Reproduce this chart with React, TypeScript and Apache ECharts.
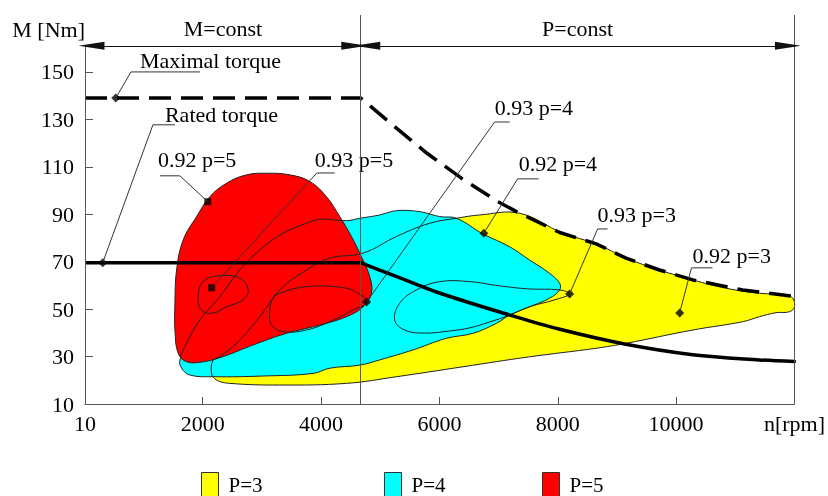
import React, { useEffect, useRef } from "react";
import * as echarts from "echarts";

const FONT = '"Liberation Serif", "Times New Roman", serif';

// Axes
const xMin = 10;
const xMax = 12000;
const yMin = 10;
const yMax = 174;
const headerNm = 161;
const zoneBoundaryRpm = 4670;
const xTickValues = [2000, 4000, 6000, 8000, 10000];
const xLabelValues = [10, 2000, 4000, 6000, 8000, 10000, 12000];
const yTickValues = [10, 30, 50, 70, 90, 110, 130, 150];
const zoneLabels = ["M=const", "P=const"];

// Torque limit curves
const maxTorqueRpm = [10, 4670, 5273, 5790, 6371, 6989, 7356, 8034, 8650, 9153, 9719, 10282, 11126, 12000];
const maxTorqueNm = [139, 139, 126.3, 115.7, 105.2, 95.3, 90.4, 82.3, 77.5, 71.5, 66.5, 62.3, 58.1, 55.3];
const ratedTorqueRpm = [10, 4670, 5000, 5330, 6000, 7190, 8034, 9150, 10280, 11408, 12000];
const ratedTorqueNm = [69.6, 69.6, 66.3, 63.2, 56.8, 47.5, 41.5, 35.2, 30.8, 28.6, 27.9];

// Efficiency regions (outline points [rpm, Nm])
const regionP3: number[][] = [
  [2176, 28.6], [2149, 22.9], [2234, 20.1], [2458, 18.7], [3303, 18.0], [4429, 18.7], [5273, 21.5],
  [6398, 25.7], [7524, 29.9], [8650, 33.5], [9157, 35.6], [10282, 41.2], [11126, 44.7], [11408, 46.8],
  [11690, 48.5], [11915, 48.9], [12000, 51.0], [11970, 54.6], [11859, 56.0], [11408, 56.7], [10846, 58.8],
  [10282, 62.3], [9719, 66.5], [9157, 71.5], [8650, 77.5], [8087, 82.0], [7356, 90.4], [6680, 89.7],
  [6287, 88.3], [5836, 86.2], [5273, 80.6], [4710, 73.6], [4147, 71.5], [3754, 66.5], [3303, 58.1],
  [2965, 46.8], [2572, 35.6], [2290, 30.0],
];
const regionP4: number[][] = [
  [3754, 86.2], [3978, 87.9], [4429, 87.3], [4654, 88.3], [4991, 89.7], [5273, 91.5], [5667, 91.1],
  [6005, 89.0], [6287, 88.3], [6736, 81.7], [7187, 76.3], [7524, 70.7], [7862, 65.1], [8031, 60.9],
  [8031, 58.1], [7862, 54.6], [7524, 51.0], [7187, 47.5], [6962, 44.0], [6567, 39.8], [6118, 37.7],
  [5554, 32.8], [4991, 28.6], [4654, 26.4], [4147, 25.1], [3865, 22.9], [3021, 21.8], [2176, 21.5],
  [1783, 22.2], [1643, 25.1], [1614, 28.6], [1727, 35.6], [1952, 45.4], [2290, 55.3], [2627, 66.5],
  [2965, 75.0], [3358, 82.0],
];
const regionP5: number[][] = [
  [3078, 107.3], [2740, 106.6], [2403, 103.1], [2121, 97.4], [1896, 89.0], [1670, 79.2], [1558, 66.5],
  [1530, 52.5], [1530, 41.2], [1585, 31.4], [1727, 27.8], [2008, 27.8], [2345, 30.0], [2852, 34.9],
  [3416, 39.8], [3978, 43.3], [4429, 46.8], [4710, 51.0], [4851, 56.7], [4822, 63.7], [4682, 72.1],
  [4513, 80.6], [4316, 89.0], [4091, 97.4], [3809, 103.8], [3472, 106.6],
];
// Inner efficiency contours
const contour093p5: number[][] = [
  [1923, 55.3], [2008, 61.6], [2290, 64.1], [2627, 63.0], [2768, 58.1], [2683, 53.9], [2403, 51.0],
  [2176, 48.3], [1980, 49.6],
];
const contour093p4: number[][] = [
  [3303, 56.7], [3754, 59.5], [4429, 58.8], [4710, 55.3], [4767, 52.5], [4541, 49.6], [4147, 44.7],
  [3754, 41.2], [3358, 40.5], [3163, 43.3], [3134, 49.6], [3190, 54.6],
];
const contour093p3: number[][] = [
  [5244, 45.4], [5329, 52.5], [5611, 58.1], [6005, 61.6], [6511, 61.6], [7018, 59.8], [7524, 58.5],
  [8031, 58.1], [8200, 56.4], [7946, 53.9], [7524, 51.0], [7187, 47.5], [6849, 44.6], [6511, 42.1],
  [6174, 40.8], [5751, 39.9], [5413, 41.2],
];

// Annotations
const annotationNames = ["Maximal torque", "Rated torque", "0.92 p=5", "0.93 p=5", "0.93 p=4", "0.92 p=4", "0.93 p=3", "0.92 p=3"];
const annotationSymbols = ["diamond", "diamond", "rect", "rect", "diamond", "diamond", "diamond", "diamond"];
const annotationMarkers = [[530, 139], [310, 69.6], [2085, 95.3], [2150, 59], [4770, 53], [6750, 82], [8200, 56.4], [10060, 48.4]];
const annotationElbows = [[787, 150], [1158, 127.7], [1614, 106.2], [3928, 107.4], [6933, 128.9], [7322, 104.9], [8673, 83.8], [10260, 67.4]];
const annotationStubEnds = [[1952, 150], [1530, 127.7], [1276, 106.2], [4231, 107.4], [7187, 128.9], [7676, 104.9], [8841, 83.8], [10615, 67.4]];
const annotationTextAnchors = [[939, 154.9], [1361, 132.1], [1243, 112.9], [3894, 112.9], [6933, 135.1], [7339, 111.6], [8673, 89.9], [10277, 72.8]];

// Legend
const legendNames = ["P=3", "P=4", "P=5"];
const legendColors = ["#ffff00", "#00ffff", "#ff0000"];
const legendLefts = [201, 384, 542];

const zip = (a: number[], b: number[]) => a.map((v, i) => [v, b[i]]);

export default function App() {
  const ref = useRef<HTMLDivElement>(null);
  useEffect(() => {
    const chart = echarts.init(ref.current as HTMLDivElement, null, { renderer: "svg" });

    const polygon = (name: string | undefined, pts: number[][], fill: string | null, stroke: string | null) => ({
      type: "custom",
      name,
      silent: true,
      data: pts,
      encode: { x: 0, y: 1 },
      itemStyle: { color: fill || "#000", borderColor: "#333", borderWidth: 1 },
      renderItem: (params: any, api: any) => {
        if (params.dataIndex !== 0) return null;
        return {
          type: "polygon",
          shape: { points: pts.map((p) => api.coord(p)), smooth: 0.4 },
          style: { fill: fill || "none", stroke: stroke || "none", lineWidth: 1 },
        };
      },
    });

    const leaderSeries = annotationMarkers.map((m, i) => ({
      type: "line",
      silent: true,
      data: [m, annotationElbows[i], annotationStubEnds[i]],
      symbol: "none",
      lineStyle: { color: "#333", width: 1 },
    }));

    const arrowEnd = (coord: number[]) => ({ coord, symbol: "triangle", symbolSize: [8, 26], symbolOffset: [0, 6.5] });
    const plainEnd = (coord: number[]) => ({ coord, symbol: "none" });
    const labelStyle = { show: true, position: "insideMiddleTop", distance: 6, fontSize: 22, fontFamily: FONT, color: "#000" };
    const headerLine = { color: "#111", width: 1, type: "solid" };

    const rated = zip(ratedTorqueRpm, ratedTorqueNm);

    const option: any = {
      animation: false,
      textStyle: { fontFamily: FONT },
      grid: { left: 85, right: 33, top: 15, bottom: 92, containLabel: false },
      xAxis: {
        type: "value",
        min: xMin,
        max: xMax,
        splitLine: { show: false },
        axisLine: { lineStyle: { color: "#555", width: 1 } },
        axisTick: { inside: true, length: 7, customValues: xTickValues, lineStyle: { color: "#555" } },
        axisLabel: {
          customValues: xLabelValues,
          margin: 8,
          fontSize: 22,
          fontFamily: FONT,
          color: "#000",
          formatter: (v: number) => (v === 12000 ? "n[rpm]" : String(v)),
        },
      },
      yAxis: {
        type: "value",
        min: yMin,
        max: yMax,
        splitLine: { show: false },
        axisLine: { show: false },
        axisTick: { show: true, inside: true, length: 8, customValues: yTickValues, lineStyle: { color: "#555" } },
        axisLabel: { customValues: yTickValues, margin: 11, fontSize: 22, fontFamily: FONT, color: "#000" },
        name: "M [Nm]",
        nameLocation: "end",
        nameGap: -25,
        nameMoveOverlap: false,
        nameTextStyle: { fontSize: 22, fontFamily: FONT, color: "#000", align: "right" },
      },
      legend: legendNames.map((n, i) => ({
        data: [n],
        left: legendLefts[i],
        top: 472,
        padding: 0,
        itemGap: 0,
        itemWidth: 17,
        itemHeight: 24,
        icon: "rect",
        selectedMode: false,
        itemStyle: { borderColor: "#333", borderWidth: 1 },
        textStyle: { fontSize: 21, fontFamily: FONT, color: "#000", padding: [0, 0, 0, 5] },
      })),
      series: [
        polygon("P=3", regionP3, legendColors[0], null),
        polygon("P=4", regionP4, legendColors[1], null),
        polygon("P=5", regionP5, legendColors[2], null),
        polygon(undefined, regionP3, null, "#222"),
        polygon(undefined, regionP4, null, "#222"),
        polygon(undefined, regionP5, null, "#222"),
        polygon(undefined, contour093p5, null, "#222"),
        polygon(undefined, contour093p4, null, "#222"),
        polygon(undefined, contour093p3, null, "#222"),
        {
          type: "line",
          silent: true,
          data: zip(maxTorqueRpm, maxTorqueNm),
          symbol: "none",
          lineStyle: { color: "#000", width: 3.5, type: [22, 10] },
        },
        {
          type: "line",
          silent: true,
          data: rated.slice(0, 2),
          symbol: "none",
          lineStyle: { color: "#000", width: 3.5 },
        },
        {
          type: "line",
          silent: true,
          data: rated.slice(1),
          symbol: "none",
          smooth: 0.35,
          lineStyle: { color: "#000", width: 3.5, cap: "round" },
        },
        ...leaderSeries,
        {
          type: "scatter",
          silent: true,
          data: annotationMarkers.map((m, i) => ({
            value: m,
            symbol: annotationSymbols[i],
            symbolSize: annotationSymbols[i] === "rect" ? 7 : 9,
          })),
          itemStyle: { color: "#000" },
        },
        {
          type: "custom",
          silent: true,
          data: annotationTextAnchors,
          encode: { x: 0, y: 1 },
          renderItem: (params: any, api: any) => {
            const i = params.dataIndex;
            const p = api.coord(annotationTextAnchors[i]);
            return {
              type: "text",
              x: p[0],
              y: p[1],
              style: {
                text: annotationNames[i],
                fontSize: 22,
                fontFamily: FONT,
                fill: "#000",
                align: "left",
                verticalAlign: "middle",
              },
            };
          },
        },
        {
          type: "line",
          silent: true,
          data: [[xMin, yMin]],
          symbol: "none",
          lineStyle: { width: 0 },
          markLine: {
            silent: true,
            symbol: ["none", "none"],
            lineStyle: { color: "#555", width: 1, type: "solid" },
            label: { show: false },
            data: [
              [plainEnd([xMin, yMin]), plainEnd([xMin, headerNm])],
              [plainEnd([zoneBoundaryRpm, yMin]), plainEnd([zoneBoundaryRpm, yMax])],
              [plainEnd([xMax, yMin]), plainEnd([xMax, yMax])],
              [
                { ...arrowEnd([xMin, headerNm]), lineStyle: headerLine, label: { ...labelStyle, formatter: zoneLabels[0] } },
                arrowEnd([zoneBoundaryRpm, headerNm]),
              ],
              [
                { ...arrowEnd([zoneBoundaryRpm, headerNm]), lineStyle: headerLine, label: { ...labelStyle, formatter: zoneLabels[1] } },
                arrowEnd([xMax, headerNm]),
              ],
            ],
          },
        },
      ],
    };
    chart.setOption(option);
    return () => chart.dispose();
  }, []);
  return <div ref={ref} style={{ position: "fixed", left: 0, top: 0, width: 828, height: 496 }} />;
}
